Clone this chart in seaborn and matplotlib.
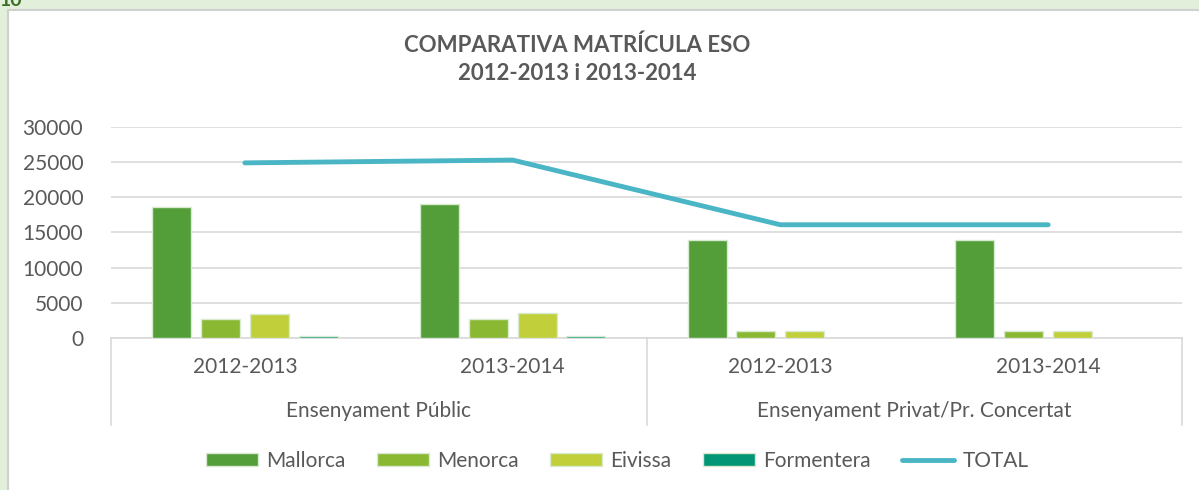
import pandas as pd
import matplotlib.pyplot as plt
import matplotlib.transforms as mtransforms
from matplotlib.patches import Rectangle
import seaborn as sns

# data
groups = ['Ensenyament Públic', 'Ensenyament Privat/Pr. Concertat']
years = ['2012-2013', '2013-2014']
islands = ['Mallorca', 'Menorca', 'Eivissa', 'Formentera']
mallorca = [18600, 19000, 14000, 14000]
menorca = [2700, 2700, 1000, 1000]
eivissa = [3400, 3600, 1000, 1000]
formentera = [300, 300, 0, 0]
total = [24900, 25300, 16100, 16100]
colors = ['#549e39', '#8ab833', '#c0cf3a', '#029676']
line_color = '#4ab5c4'
text_color = '#595959'

slots = [g + ' ' + y for g in groups for y in years]
rows = []
for name, vals in zip(islands, [mallorca, menorca, eivissa, formentera]):
    for s, v in zip(slots, vals):
        rows.append({'slot': s, 'island': name, 'value': v})
df = pd.DataFrame(rows)

sns.set_style('white')
plt.rcParams['font.family'] = ['Lato', 'DejaVu Sans']

fig = plt.figure(figsize=(11.99, 4.9), dpi=100, facecolor='#e2efda')
fig.patches.append(Rectangle((8 / 1199, -0.1), 1.1, 1.1 - 10 / 490, transform=fig.transFigure,
                             facecolor='white', edgecolor='#d0d0d0', linewidth=1.5, zorder=-5))
fig.text(0.0, 1.0, '10', color='#3b6e22', fontsize=14, fontweight='bold', va='center', ha='left')

ax = fig.add_axes([111 / 1199, 1 - 338 / 490, (1182 - 111) / 1199, (338 - 127) / 490])
ax.set_zorder(2)
ax.set_facecolor('none')

sns.barplot(data=df, x='slot', y='value', hue='island', palette=colors, saturation=1,
            width=0.73, gap=0.2, edgecolor='#d8ead0', linewidth=1, ax=ax, zorder=3)
ax.plot(range(len(slots)), total, color=line_color, linewidth=3.5, solid_capstyle='round',
        label='TOTAL', zorder=4)

ax.set_xlim(-0.5, 3.5)
ax.set_ylim(0, 30000)
ax.set_yticks(range(0, 30001, 5000))
ax.yaxis.grid(True, color='#d9d9d9', linewidth=1.2)
ax.set_axisbelow(True)
ax.tick_params(axis='y', length=0, labelsize=15, labelcolor=text_color, pad=20)
ax.set_xticks([])
ax.set_xlabel('')
ax.set_ylabel('')
for side in ['top', 'right', 'left']:
    ax.spines[side].set_visible(False)
ax.spines['bottom'].set_color('#d9d9d9')
ax.spines['bottom'].set_linewidth(1.2)

# two-level category axis
trans = mtransforms.blended_transform_factory(ax.transData, ax.transAxes)
for i, s in enumerate(slots):
    ax.text(i, -0.137, years[i % 2], transform=trans, ha='center', va='center',
            fontsize=15, color=text_color, clip_on=False)
for j, g in enumerate(groups):
    ax.text(2 * j + 0.5, -0.346, g, transform=trans, ha='center', va='center',
            fontsize=15, color=text_color, clip_on=False)
for xv in [-0.5, 1.5, 3.5]:
    ax.plot([xv, xv], [0, -0.41], transform=trans, color='#d9d9d9', linewidth=1.2, clip_on=False)

handles, labels = ax.get_legend_handles_labels()
ax.get_legend().remove()
fig.legend(handles, labels, loc='center', bbox_to_anchor=(617 / 1199, 1 - 461 / 490), ncol=5,
           frameon=False, fontsize=15, labelcolor=text_color, handlelength=2.5, handleheight=0.6,
           handletextpad=0.4, columnspacing=1.5)

fig.text(577 / 1199, 1 - 45 / 490, 'COMPARATIVA MATRÍCULA ESO', ha='center', va='center',
         fontsize=16, fontweight='bold', color=text_color)
fig.text(577 / 1199, 1 - 74 / 490, '2012-2013 i 2013-2014', ha='center', va='center',
         fontsize=16, fontweight='bold', color=text_color)

fig.savefig('out.png', dpi=100, facecolor=fig.get_facecolor())
